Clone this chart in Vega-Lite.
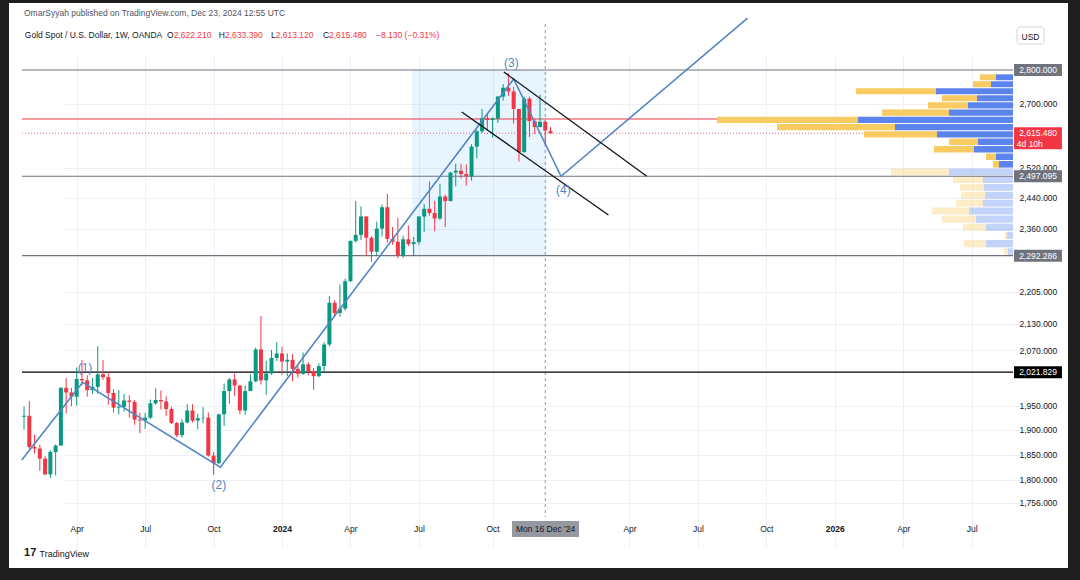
{
  "$schema": "https://vega.github.io/schema/vega-lite/v6.json",
  "width": 1059,
  "height": 565,
  "autosize": {"type": "none"},
  "padding": {"left": 9, "top": 3, "right": 12, "bottom": 12},
  "background": "#1e1e1e",
  "config": {"view": {"fill": "#ffffff", "stroke": null}, "font": "Liberation Sans"},
  "title": {"text": "OmarSyyah published on TradingView.com, Dec 23, 2024 12:55 UTC", "anchor": "start", "frame": "group", "offset": -14, "dx": 15, "fontSize": 8.5, "fontWeight": "normal", "color": "#50535e", "font": "Liberation Sans"},
  "datasets": {
    "candles": [
      {"d":"2023-01-23","o":1927,"h":1949,"l":1900,"c":1929},
      {"d":"2023-01-30","o":1929,"h":1960,"l":1861,"c":1865},
      {"d":"2023-02-06","o":1865,"h":1890,"l":1852,"c":1862},
      {"d":"2023-02-13","o":1862,"h":1870,"l":1818,"c":1842},
      {"d":"2023-02-20","o":1842,"h":1847,"l":1809,"c":1811},
      {"d":"2023-02-27","o":1811,"h":1858,"l":1804,"c":1855},
      {"d":"2023-03-06","o":1855,"h":1870,"l":1809,"c":1868},
      {"d":"2023-03-13","o":1868,"h":1989,"l":1868,"c":1988},
      {"d":"2023-03-20","o":1988,"h":2009,"l":1934,"c":1978},
      {"d":"2023-03-27","o":1978,"h":1988,"l":1949,"c":1969},
      {"d":"2023-04-03","o":1969,"h":2032,"l":1950,"c":2007},
      {"d":"2023-04-10","o":2007,"h":2048,"l":1993,"c":2004},
      {"d":"2023-04-17","o":2004,"h":2015,"l":1969,"c":1983},
      {"d":"2023-04-24","o":1983,"h":2009,"l":1975,"c":1990},
      {"d":"2023-05-01","o":1990,"h":2079,"l":1975,"c":2017},
      {"d":"2023-05-08","o":2017,"h":2048,"l":2005,"c":2011},
      {"d":"2023-05-15","o":2011,"h":2022,"l":1952,"c":1977},
      {"d":"2023-05-22","o":1977,"h":1985,"l":1936,"c":1946},
      {"d":"2023-05-29","o":1946,"h":1983,"l":1932,"c":1948},
      {"d":"2023-06-05","o":1948,"h":1975,"l":1938,"c":1961},
      {"d":"2023-06-12","o":1961,"h":1972,"l":1925,"c":1958},
      {"d":"2023-06-19","o":1958,"h":1962,"l":1910,"c":1921},
      {"d":"2023-06-26","o":1921,"h":1935,"l":1893,"c":1919},
      {"d":"2023-07-03","o":1919,"h":1935,"l":1902,"c":1925},
      {"d":"2023-07-10","o":1925,"h":1963,"l":1922,"c":1955},
      {"d":"2023-07-17","o":1955,"h":1987,"l":1952,"c":1962},
      {"d":"2023-07-24","o":1962,"h":1982,"l":1942,"c":1959},
      {"d":"2023-07-31","o":1959,"h":1970,"l":1928,"c":1943},
      {"d":"2023-08-07","o":1943,"h":1948,"l":1912,"c":1914},
      {"d":"2023-08-14","o":1914,"h":1916,"l":1885,"c":1889},
      {"d":"2023-08-21","o":1889,"h":1922,"l":1884,"c":1915},
      {"d":"2023-08-28","o":1915,"h":1953,"l":1913,"c":1940},
      {"d":"2023-09-04","o":1940,"h":1953,"l":1915,"c":1919},
      {"d":"2023-09-11","o":1919,"h":1933,"l":1901,"c":1924},
      {"d":"2023-09-18","o":1924,"h":1947,"l":1913,"c":1925},
      {"d":"2023-09-25","o":1925,"h":1936,"l":1846,"c":1848},
      {"d":"2023-10-02","o":1848,"h":1855,"l":1810,"c":1833},
      {"d":"2023-10-09","o":1833,"h":1933,"l":1831,"c":1932},
      {"d":"2023-10-16","o":1932,"h":1997,"l":1908,"c":1981},
      {"d":"2023-10-23","o":1981,"h":2009,"l":1954,"c":2006},
      {"d":"2023-10-30","o":2006,"h":2019,"l":1970,"c":1993},
      {"d":"2023-11-06","o":1993,"h":1993,"l":1932,"c":1940},
      {"d":"2023-11-13","o":1940,"h":1993,"l":1931,"c":1981},
      {"d":"2023-11-20","o":1981,"h":2017,"l":1981,"c":2002},
      {"d":"2023-11-27","o":2002,"h":2076,"l":2000,"c":2072},
      {"d":"2023-12-04","o":2072,"h":2148,"l":1995,"c":2004},
      {"d":"2023-12-11","o":2004,"h":2047,"l":1973,"c":2019},
      {"d":"2023-12-18","o":2019,"h":2071,"l":2016,"c":2053},
      {"d":"2023-12-25","o":2053,"h":2088,"l":2046,"c":2063},
      {"d":"2024-01-01","o":2063,"h":2078,"l":2016,"c":2045},
      {"d":"2024-01-08","o":2045,"h":2063,"l":2013,"c":2049},
      {"d":"2024-01-15","o":2049,"h":2062,"l":2002,"c":2029},
      {"d":"2024-01-22","o":2029,"h":2036,"l":2010,"c":2018},
      {"d":"2024-01-29","o":2018,"h":2065,"l":2016,"c":2039},
      {"d":"2024-02-05","o":2039,"h":2044,"l":2015,"c":2024},
      {"d":"2024-02-12","o":2024,"h":2031,"l":1984,"c":2013},
      {"d":"2024-02-19","o":2013,"h":2041,"l":2011,"c":2035},
      {"d":"2024-02-26","o":2035,"h":2088,"l":2024,"c":2083},
      {"d":"2024-03-04","o":2083,"h":2195,"l":2079,"c":2179},
      {"d":"2024-03-11","o":2179,"h":2185,"l":2146,"c":2155},
      {"d":"2024-03-18","o":2155,"h":2222,"l":2146,"c":2165},
      {"d":"2024-03-25","o":2165,"h":2236,"l":2160,"c":2230},
      {"d":"2024-04-01","o":2230,"h":2330,"l":2229,"c":2329},
      {"d":"2024-04-08","o":2329,"h":2431,"l":2325,"c":2344},
      {"d":"2024-04-15","o":2344,"h":2417,"l":2331,"c":2391},
      {"d":"2024-04-22","o":2391,"h":2392,"l":2291,"c":2337},
      {"d":"2024-04-29","o":2337,"h":2340,"l":2277,"c":2302},
      {"d":"2024-05-06","o":2302,"h":2378,"l":2292,"c":2360},
      {"d":"2024-05-13","o":2360,"h":2422,"l":2340,"c":2415},
      {"d":"2024-05-20","o":2415,"h":2450,"l":2325,"c":2334},
      {"d":"2024-05-27","o":2334,"h":2364,"l":2319,"c":2327},
      {"d":"2024-06-03","o":2327,"h":2388,"l":2286,"c":2293},
      {"d":"2024-06-10","o":2293,"h":2342,"l":2287,"c":2333},
      {"d":"2024-06-17","o":2333,"h":2368,"l":2316,"c":2321},
      {"d":"2024-06-24","o":2321,"h":2339,"l":2293,"c":2326},
      {"d":"2024-07-01","o":2326,"h":2392,"l":2319,"c":2391},
      {"d":"2024-07-08","o":2391,"h":2424,"l":2352,"c":2411},
      {"d":"2024-07-15","o":2411,"h":2483,"l":2393,"c":2400},
      {"d":"2024-07-22","o":2400,"h":2432,"l":2353,"c":2386},
      {"d":"2024-07-29","o":2386,"h":2477,"l":2382,"c":2443},
      {"d":"2024-08-05","o":2443,"h":2448,"l":2364,"c":2431},
      {"d":"2024-08-12","o":2431,"h":2509,"l":2431,"c":2507},
      {"d":"2024-08-19","o":2507,"h":2531,"l":2470,"c":2512},
      {"d":"2024-08-26","o":2512,"h":2531,"l":2491,"c":2503},
      {"d":"2024-09-02","o":2503,"h":2529,"l":2472,"c":2497},
      {"d":"2024-09-09","o":2497,"h":2585,"l":2485,"c":2578},
      {"d":"2024-09-16","o":2578,"h":2625,"l":2546,"c":2621},
      {"d":"2024-09-23","o":2621,"h":2685,"l":2616,"c":2658},
      {"d":"2024-09-30","o":2658,"h":2672,"l":2624,"c":2653},
      {"d":"2024-10-07","o":2653,"h":2661,"l":2603,"c":2657},
      {"d":"2024-10-14","o":2657,"h":2723,"l":2645,"c":2721},
      {"d":"2024-10-21","o":2721,"h":2758,"l":2709,"c":2747},
      {"d":"2024-10-28","o":2747,"h":2790,"l":2723,"c":2736},
      {"d":"2024-11-04","o":2736,"h":2750,"l":2643,"c":2685},
      {"d":"2024-11-11","o":2685,"h":2685,"l":2537,"c":2563},
      {"d":"2024-11-18","o":2563,"h":2721,"l":2561,"c":2715},
      {"d":"2024-11-25","o":2715,"h":2721,"l":2605,"c":2650},
      {"d":"2024-12-02","o":2650,"h":2657,"l":2613,"c":2633},
      {"d":"2024-12-09","o":2633,"h":2726,"l":2632,"c":2648},
      {"d":"2024-12-16","o":2648,"h":2652,"l":2583,"c":2623},
      {"d":"2024-12-23","o":2622.21,"h":2633.39,"l":2613.12,"c":2615.48}
    ],
    "profile": [
      {"lo":2769.26,"hi":2790.00,"up":1700,"down":1600,"va":"in"},
      {"lo":2748.52,"hi":2769.26,"up":2200,"down":1800,"va":"in"},
      {"lo":2727.78,"hi":2748.52,"up":7700,"down":8000,"va":"in"},
      {"lo":2707.05,"hi":2727.78,"up":3600,"down":3500,"va":"in"},
      {"lo":2686.31,"hi":2707.05,"up":4500,"down":4000,"va":"in"},
      {"lo":2665.57,"hi":2686.31,"up":6400,"down":6700,"va":"in"},
      {"lo":2644.83,"hi":2665.57,"up":15500,"down":14100,"va":"in"},
      {"lo":2624.09,"hi":2644.83,"up":11800,"down":11800,"va":"in"},
      {"lo":2603.36,"hi":2624.09,"up":7600,"down":7300,"va":"in"},
      {"lo":2582.62,"hi":2603.36,"up":3500,"down":2900,"va":"in"},
      {"lo":2561.88,"hi":2582.62,"up":3900,"down":4000,"va":"in"},
      {"lo":2541.14,"hi":2561.88,"up":1700,"down":1000,"va":"in"},
      {"lo":2520.40,"hi":2541.14,"up":1400,"down":600,"va":"in"},
      {"lo":2499.67,"hi":2520.40,"up":6400,"down":5800,"va":"out"},
      {"lo":2478.93,"hi":2499.67,"up":3000,"down":3000,"va":"out"},
      {"lo":2458.19,"hi":2478.93,"up":2900,"down":2400,"va":"out"},
      {"lo":2437.45,"hi":2458.19,"up":2800,"down":2400,"va":"out"},
      {"lo":2416.71,"hi":2437.45,"up":3000,"down":2700,"va":"out"},
      {"lo":2395.98,"hi":2416.71,"up":4400,"down":3700,"va":"out"},
      {"lo":2375.24,"hi":2395.98,"up":3700,"down":3400,"va":"out"},
      {"lo":2354.50,"hi":2375.24,"up":2700,"down":2300,"va":"out"},
      {"lo":2333.76,"hi":2354.50,"up":600,"down":200,"va":"out"},
      {"lo":2313.02,"hi":2333.76,"up":2700,"down":2200,"va":"out"},
      {"lo":2292.29,"hi":2313.02,"up":500,"down":400,"va":"out"}
    ],
    "levels": [
      {"p":2800,"t":"2,800.000","k":"range"},
      {"p":2497.095,"t":"2,497.095","k":"range"},
      {"p":2292.286,"t":"2,292.286","k":"range"},
      {"p":2021.829,"t":"2,021.829","k":"level"}
    ],
    "last": [{"p":2615.48,"t":"2,615.480","cd":"4d 10h"}],
    "wave": [
      {"i":0,"d":"2023-01-20","p":1839},
      {"i":1,"d":"2023-04-11","p":2000},
      {"i":2,"d":"2023-10-11","p":1825},
      {"i":3,"d":"2024-11-04","p":2773},
      {"i":4,"d":"2025-01-06","p":2497},
      {"i":5,"d":"2025-09-11","p":2961}
    ],
    "channel": [
      {"s":"upper","d":"2024-10-22","p":2794},
      {"s":"upper","d":"2025-04-30","p":2497},
      {"s":"lower","d":"2024-08-27","p":2676},
      {"s":"lower","d":"2025-03-10","p":2395}
    ],
    "wavelabels": [
      {"d":"2023-04-14","p":2031,"t":"(1)"},
      {"d":"2023-10-09","p":1790,"t":"(2)"},
      {"d":"2024-11-01","p":2821,"t":"(3)"},
      {"d":"2025-01-09","p":2460,"t":"(4)"}
    ],
    "ohlc": [
      {"d":"2023-08-09T22:00:00Z","p":2907.6,"k":"O","v":"2,622.210"},
      {"d":"2023-10-17T05:00:00Z","p":2907.6,"k":"H","v":"2,633.390"},
      {"d":"2023-12-23T14:00:00Z","p":2907.6,"k":"L","v":"2,613.120"},
      {"d":"2024-03-03T12:00:00Z","p":2907.6,"k":"C","v":"2,615.480"},
      {"d":"2024-05-05T00:00:00Z","p":2907.6,"k":"","v":"−8.130 (−0.31%)"}
    ]
  },
  "layer": [
    {
      "layer": [
        {
          "data": {"values": [{"start":"2024-06-22","end":"2024-12-18","lo":2292.286,"hi":2800}]},
          "mark": {"type": "rect", "color": "#2196f3", "opacity": 0.1},
          "encoding": {
            "x": {"field": "start", "type": "temporal", "scale": {"type": "utc", "domain": [{"year":2023,"month":1,"date":20,"hours":7,"utc":true},{"year":2026,"month":8,"date":29,"hours":22,"utc":true}], "range": [13, 1004], "padding": 0, "nice": false}, "axis": null},
            "x2": {"field": "end"},
            "y": {"field": "lo", "type": "quantitative", "axis": null},
            "y2": {"field": "hi"}
          }
        },
        {
          "data": {"values": [{"d":"2024-12-16"}]},
          "mark": {"type": "rule", "color": "#9598a1", "strokeDash": [3, 3], "strokeWidth": 1},
          "encoding": {
            "x": {"field": "d", "type": "temporal", "axis": null},
            "y": {"datum": 2942.3, "type": "quantitative", "axis": null},
            "y2": {"datum": 1729.6}
          }
        },
        {
          "data": {"values": [{"p":2656}]},
          "mark": {"type": "rule", "color": "#f23645", "strokeWidth": 1},
          "encoding": {
            "y": {"field": "p", "type": "quantitative", "axis": null},
            "x": {"datum": {"year":2023,"month":1,"date":20,"hours":7,"utc":true}, "type": "temporal", "axis": null},
            "x2": {"datum": {"year":2026,"month":8,"date":29,"hours":22,"utc":true}}
          }
        },
        {
          "data": {"name": "last"},
          "mark": {"type": "rule", "color": "#e57380", "strokeDash": [1, 2], "strokeWidth": 1},
          "encoding": {
            "y": {"field": "p", "type": "quantitative", "axis": null},
            "x": {"datum": {"year":2023,"month":1,"date":20,"hours":7,"utc":true}, "type": "temporal", "axis": null},
            "x2": {"datum": {"year":2026,"month":8,"date":29,"hours":22,"utc":true}}
          }
        }
      ],
      "resolve": {"axis": {"y": "independent"}}
    },
    {
      "data": {"name": "profile"},
      "transform": [
        {"fold": ["up", "down"], "as": ["side", "vol"]},
        {"stack": "vol", "groupby": ["lo"], "sort": [{"field": "side", "order": "descending"}], "as": ["v0", "v1"]}
      ],
      "mark": {"type": "rect", "y2Offset": 1},
      "encoding": {
        "x": {"field": "v0", "type": "quantitative", "scale": {"domain": [0, 99100], "range": [13, 1004], "reverse": true, "padding": 0, "nice": false, "zero": false}, "axis": null},
        "x2": {"field": "v1"},
        "y": {"field": "lo", "type": "quantitative", "axis": null},
        "y2": {"field": "hi"},
        "color": {"field": "side", "type": "nominal", "scale": {"domain": ["up", "down"], "range": ["#5b84ee", "#f8cb63"]}, "legend": null},
        "opacity": {"field": "va", "type": "nominal", "scale": {"domain": ["in", "out"], "range": [1, 0.36]}, "legend": null}
      }
    },
    {
      "layer": [
        {
          "data": {"name": "levels"},
          "mark": {"type": "rule", "strokeWidth": 1.2},
          "encoding": {
            "y": {"field": "p", "type": "quantitative", "axis": null},
            "x": {"datum": {"year":2023,"month":1,"date":20,"hours":7,"utc":true}, "type": "temporal"},
            "x2": {"datum": {"year":2026,"month":8,"date":29,"hours":22,"utc":true}},
            "color": {"condition": {"test": "datum.k == 'level'", "value": "#000000"}, "value": "#70737e"}
          }
        },
        {
          "data": {"name": "candles"},
          "mark": {"type": "rule", "strokeWidth": 1},
          "encoding": {
            "x": {"field": "d", "type": "temporal",
              "scale": {"type": "utc", "domain": [{"year":2023,"month":1,"date":20,"hours":7,"utc":true},{"year":2026,"month":8,"date":29,"hours":22,"utc":true}], "range": [13, 1004], "padding": 0, "nice": false},
              "axis": {"orient": "bottom", "offset": -51,
                "values": [{"year":2023,"month":4,"date":3,"utc":true},{"year":2023,"month":7,"date":3,"utc":true},{"year":2023,"month":10,"date":2,"utc":true},{"year":2024,"month":1,"date":1,"utc":true},{"year":2024,"month":4,"date":1,"utc":true},{"year":2024,"month":7,"date":1,"utc":true},{"year":2024,"month":10,"date":7,"utc":true},{"year":2025,"month":4,"date":7,"utc":true},{"year":2025,"month":7,"date":7,"utc":true},{"year":2025,"month":10,"date":6,"utc":true},{"year":2026,"month":1,"date":5,"utc":true},{"year":2026,"month":4,"date":6,"utc":true},{"year":2026,"month":7,"date":6,"utc":true}],
                "labelExpr": "utcmonth(datum.value) == 0 ? utcFormat(datum.value, '%Y') : utcFormat(datum.value, '%b')",
                "labelFontWeight": {"condition": {"test": "utcmonth(datum.value) == 0", "value": "bold"}, "value": "normal"},
                "ticks": false, "domain": false, "labelPadding": 7, "labelFontSize": 8.5, "labelColor": "#131722", "labelOverlap": false,
                "grid": true, "gridColor": "#eef0f5",
                "title": "TradingView", "titleAnchor": "start", "titleAlign": "left", "titleX": 30, "titleY": 36, "titleBaseline": "middle", "titleFontSize": 9, "titleFontWeight": "normal", "titleColor": "#131722"}},
            "y": {"field": "l", "type": "quantitative",
              "scale": {"type": "log", "domain": [1729.6, 2942.3], "range": [514, 21], "nice": false, "zero": false, "padding": 0},
              "axis": {"orient": "right", "offset": -55, "values": [2700, 2520, 2440, 2360, 2205, 2130, 2070, 1950, 1900, 1850, 1800, 1756],
                "format": ",.3f", "ticks": false, "domain": false, "labelPadding": 6, "labelFontSize": 8.5, "labelColor": "#131722", "labelOverlap": false,
                "grid": true, "gridColor": "#eef0f5",
                "title": "USD", "titleAngle": 0, "titleX": 17, "titleY": 33, "titleAlign": "center", "titleBaseline": "middle", "titleFontSize": 8.5, "titleFontWeight": "normal", "titleColor": "#131722"}},
            "y2": {"field": "h"},
            "color": {"condition": {"test": "datum.c >= datum.o", "value": "#089981"}, "value": "#f23645"}
          }
        },
        {
          "data": {"name": "candles"},
          "mark": {"type": "bar", "size": 4, "minBandSize": 1},
          "encoding": {
            "x": {"field": "d", "type": "temporal"},
            "y": {"field": "o", "type": "quantitative", "axis": null},
            "y2": {"field": "c"},
            "color": {"condition": {"test": "datum.c >= datum.o", "value": "#089981"}, "value": "#f23645"}
          }
        },
        {
          "data": {"name": "wave"},
          "mark": {"type": "line", "color": "#5286c4", "strokeWidth": 1.6},
          "encoding": {
            "x": {"field": "d", "type": "temporal"},
            "y": {"field": "p", "type": "quantitative", "axis": null},
            "order": {"field": "i"}
          }
        },
        {
          "data": {"name": "channel"},
          "mark": {"type": "line", "color": "#131722", "strokeWidth": 1.4},
          "encoding": {
            "x": {"field": "d", "type": "temporal"},
            "y": {"field": "p", "type": "quantitative", "axis": null},
            "detail": {"field": "s"}
          }
        },
        {
          "data": {"name": "wavelabels"},
          "mark": {"type": "text", "color": "#5286c4", "fontSize": 12, "align": "center", "baseline": "middle"},
          "encoding": {
            "x": {"field": "d", "type": "temporal"},
            "y": {"field": "p", "type": "quantitative", "axis": null},
            "text": {"field": "t"}
          }
        },
        {
          "data": {"values": [{"d":"2023-01-24","p":2907.6,"t":"Gold Spot / U.S. Dollar, 1W, OANDA"}]},
          "mark": {"type": "text", "color": "#131722", "fontSize": 8.5, "align": "left", "baseline": "middle"},
          "encoding": {
            "x": {"field": "d", "type": "temporal"},
            "y": {"field": "p", "type": "quantitative", "axis": null},
            "text": {"field": "t"}
          }
        },
        {
          "data": {"name": "ohlc"},
          "mark": {"type": "text", "color": "#131722", "fontSize": 8.5, "align": "right", "baseline": "middle"},
          "encoding": {
            "x": {"field": "d", "type": "temporal"},
            "y": {"field": "p", "type": "quantitative", "axis": null},
            "text": {"field": "k"}
          }
        },
        {
          "data": {"name": "ohlc"},
          "mark": {"type": "text", "color": "#f23645", "fontSize": 8.5, "align": "left", "baseline": "middle"},
          "encoding": {
            "x": {"field": "d", "type": "temporal"},
            "y": {"field": "p", "type": "quantitative", "axis": null},
            "text": {"field": "v"}
          }
        },
        {
          "data": {"values": [{"d":"2023-01-23","p":1663.8,"t":"17"}]},
          "mark": {"type": "text", "color": "#131722", "fontSize": 11, "fontWeight": 900, "align": "left", "baseline": "middle"},
          "encoding": {
            "x": {"field": "d", "type": "temporal"},
            "y": {"field": "p", "type": "quantitative", "axis": null},
            "text": {"field": "t"}
          }
        },
        {
          "data": {"values": [{"p":2906}]},
          "mark": {"type": "bar", "orient": "horizontal", "size": 17, "fillOpacity": 0, "stroke": "#d1d4dc", "strokeWidth": 1, "cornerRadius": 3},
          "encoding": {
            "y": {"field": "p", "type": "quantitative", "axis": null},
            "x": {"datum": {"year":2026,"month":9,"date":4,"hours":7,"utc":true}, "type": "temporal"},
            "x2": {"datum": {"year":2026,"month":10,"date":10,"hours":5,"utc":true}}
          }
        },
        {
          "data": {"name": "levels"},
          "mark": {"type": "bar", "orient": "horizontal", "size": 12},
          "encoding": {
            "y": {"field": "p", "type": "quantitative", "axis": null},
            "x": {"datum": {"year":2026,"month":8,"date":31,"hours":7,"utc":true}, "type": "temporal"},
            "x2": {"datum": {"year":2026,"month":11,"date":3,"utc":true}},
            "color": {"condition": {"test": "datum.k == 'level'", "value": "#000000"}, "value": "#70737e"}
          }
        },
        {
          "data": {"name": "levels"},
          "mark": {"type": "text", "color": "#ffffff", "fontSize": 8.5, "align": "center", "baseline": "middle"},
          "encoding": {
            "y": {"field": "p", "type": "quantitative", "axis": null},
            "x": {"datum": {"year":2026,"month":10,"date":2,"hours":5,"utc":true}, "type": "temporal"},
            "text": {"field": "t"}
          }
        },
        {
          "data": {"name": "last"},
          "mark": {"type": "bar", "orient": "horizontal", "size": 22, "yOffset": 5, "color": "#f23645"},
          "encoding": {
            "y": {"field": "p", "type": "quantitative", "axis": null},
            "x": {"datum": {"year":2026,"month":8,"date":31,"hours":7,"utc":true}, "type": "temporal"},
            "x2": {"datum": {"year":2026,"month":11,"date":3,"utc":true}}
          }
        },
        {
          "data": {"name": "last"},
          "mark": {"type": "text", "color": "#ffffff", "fontSize": 8.5, "align": "center", "baseline": "middle"},
          "encoding": {
            "y": {"field": "p", "type": "quantitative", "axis": null},
            "x": {"datum": {"year":2026,"month":10,"date":2,"hours":5,"utc":true}, "type": "temporal"},
            "text": {"field": "t"}
          }
        },
        {
          "data": {"name": "last"},
          "mark": {"type": "text", "color": "#ffffff", "fontSize": 8.5, "align": "left", "baseline": "middle", "dy": 11},
          "encoding": {
            "y": {"field": "p", "type": "quantitative", "axis": null},
            "x": {"datum": {"year":2026,"month":9,"date":4,"utc":true}, "type": "temporal"},
            "text": {"field": "cd"}
          }
        },
        {
          "data": {"values": [{"d":"2024-12-16","p":1707.4,"t":"Mon 16 Dec '24"}]},
          "mark": {"type": "bar", "orient": "horizontal", "size": 16, "color": "#9598a1"},
          "encoding": {
            "y": {"field": "p", "type": "quantitative", "axis": null},
            "x": {"datum": {"year":2024,"month":11,"date":1,"hours":19,"utc":true}, "type": "temporal"},
            "x2": {"datum": {"year":2025,"month":1,"date":29,"hours":22,"utc":true}}
          }
        },
        {
          "data": {"values": [{"d":"2024-12-16","p":1707.4,"t":"Mon 16 Dec '24"}]},
          "mark": {"type": "text", "color": "#131722", "fontSize": 8.5, "align": "center", "baseline": "middle"},
          "encoding": {
            "y": {"field": "p", "type": "quantitative", "axis": null},
            "x": {"datum": {"year":2024,"month":12,"date":16,"hours":9,"utc":true}, "type": "temporal"},
            "text": {"field": "t"}
          }
        }
      ],
      "resolve": {"axis": {"y": "independent"}}
    }
  ],
  "resolve": {"scale": {"x": "independent"}, "axis": {"x": "independent", "y": "independent"}}
}
